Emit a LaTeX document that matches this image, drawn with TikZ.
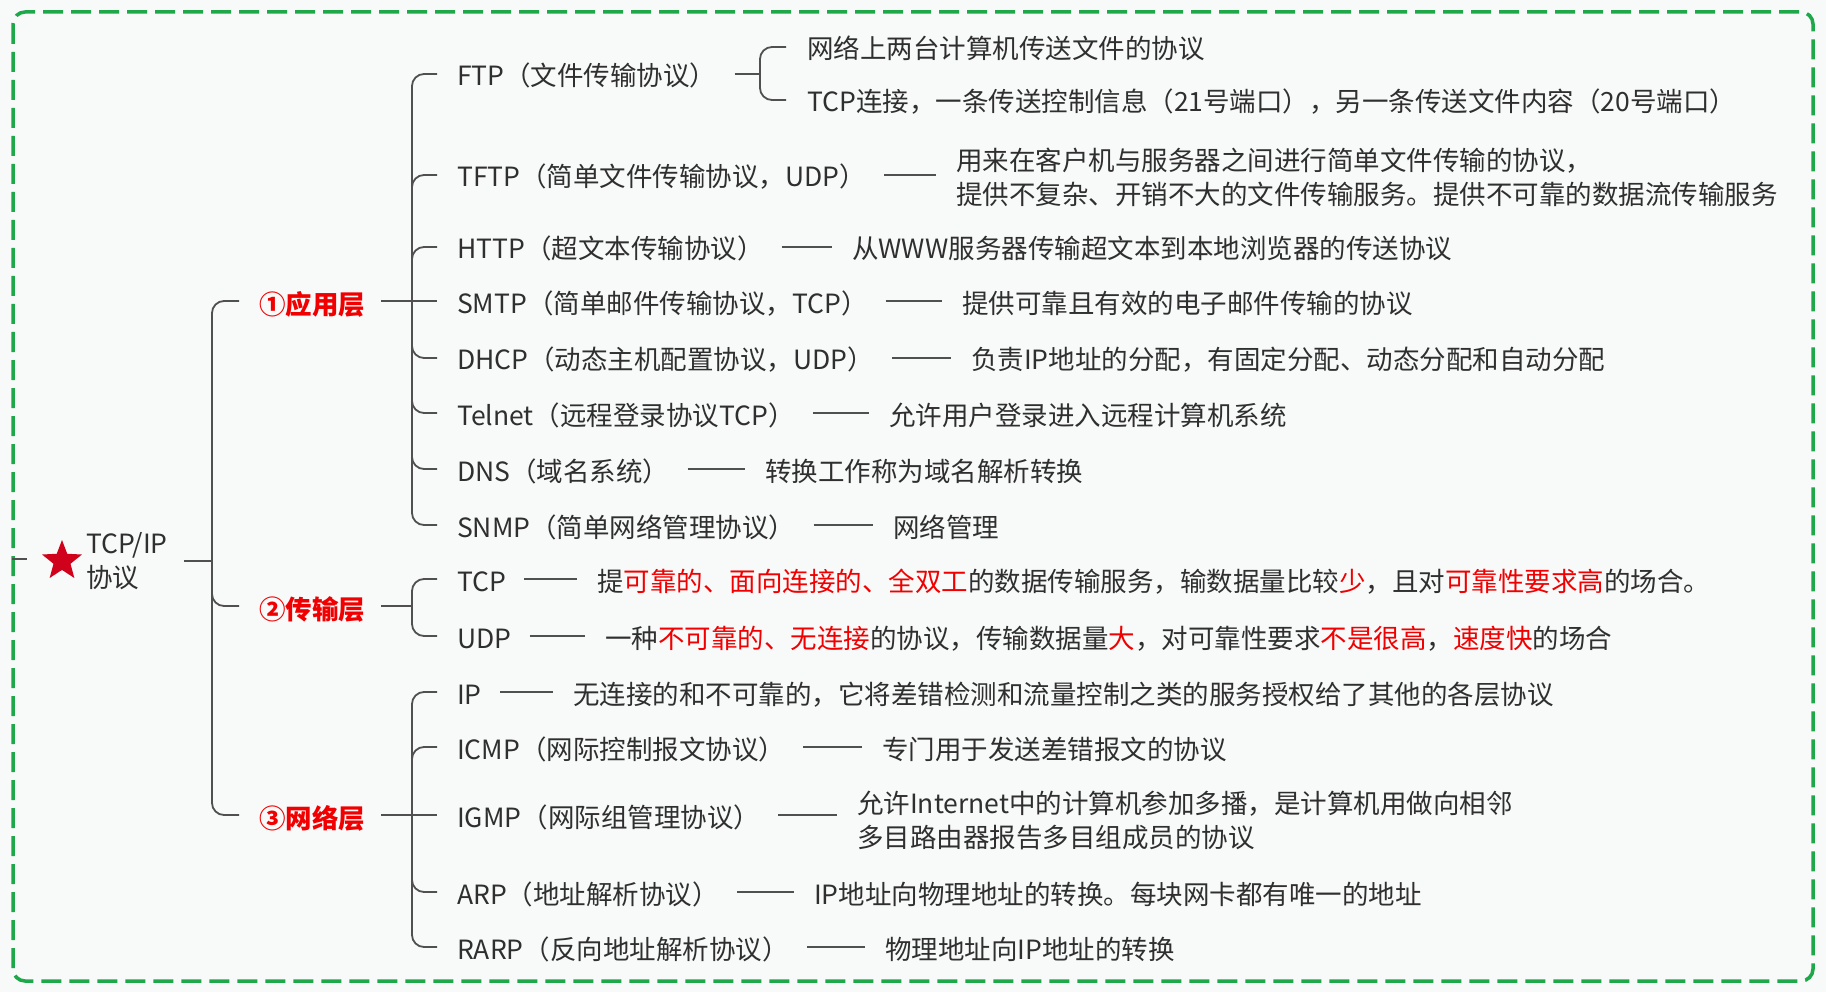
\documentclass[tikz,border=0pt]{standalone}
\usepackage{fontspec}
\setmainfont{Noto Sans CJK SC}
\usetikzlibrary{shapes.geometric}
\definecolor{bgc}{HTML}{F8F9F9}
\definecolor{txt}{HTML}{2F2F2F}
\definecolor{lnc}{HTML}{505050}
\definecolor{hl}{HTML}{F00000}
\definecolor{grn}{HTML}{1FA84A}
\definecolor{starc}{HTML}{D0021B}
\newcommand{\hlt}[1]{\textcolor{hl}{#1}}
\newcommand{\myfs}{\fontsize{26.5}{34}\selectfont}
\tikzset{
  conn/.style={draw=lnc, line width=1.8pt, rounded corners=12pt},
  item/.style={anchor=west, inner sep=0pt, text=txt, font=\myfs, text height=24pt, text depth=0pt},
  desctwo/.style={anchor=west, inner sep=0pt, text=txt, font=\myfs, align=left},
  layer/.style={anchor=west, inner sep=0pt, text=hl, font=\myfs\bfseries, text height=27pt, text depth=0pt},
  frame/.style={draw=grn, line width=3.5pt, dash pattern=on 20pt off 8pt, rounded corners=12pt}
}
\begin{document}
\begin{tikzpicture}[x=1pt,y=-1pt]
\useasboundingbox (0,0) rectangle (1826,992);
\fill[bgc] (0,0) rectangle (1826,992);
\draw[frame] (13,12) rectangle (1813,981);

% trunk coordinates
\coordinate (t0) at (212,0);
\coordinate (t1) at (412,0);
\coordinate (tf) at (760,0);
\coordinate (lsA) at (12,559);
\coordinate (lsB) at (27,559);

% root
\node[star, star points=5, star point ratio=2.35, fill=starc, minimum size=42pt, inner sep=0pt] (star) at (62,561) {};
\node[anchor=west, inner sep=0pt, text=txt, font=\fontsize{26.5}{34}\selectfont, align=left] (root) at (86,561) {TCP/IP\\协议};

% layers
\node[layer] (app) at (259,301) {①应用层};
\node[layer] (trans) at (259,606) {②传输层};
\node[layer] (net) at (259,815) {③网络层};

% application children
\node[item] (ftp) at (457,74) {FTP（文件传输协议）};
\node[item] (tftp) at (457,175) {TFTP（简单文件传输协议，UDP）};
\node[item] (http) at (457,247) {HTTP（超文本传输协议）};
\node[item] (smtp) at (457,301) {SMTP（简单邮件传输协议，TCP）};
\node[item] (dhcp) at (457,358) {DHCP（动态主机配置协议，UDP）};
\node[item] (telnet) at (457,413) {Telnet（远程登录协议TCP）};
\node[item] (dns) at (457,469) {DNS（域名系统）};
\node[item] (snmp) at (457,525) {SNMP（简单网络管理协议）};
% transport children
\node[item] (tcp) at (457,579) {TCP};
\node[item] (udp) at (457,636) {UDP};
% network children
\node[item] (ip) at (457,692) {IP};
\node[item] (icmp) at (457,747) {ICMP（网际控制报文协议）};
\node[item] (igmp) at (457,815) {IGMP（网际组管理协议）};
\node[item] (arp) at (457,892) {ARP（地址解析协议）};
\node[item] (rarp) at (457,947) {RARP（反向地址解析协议）};

% descriptions
\node[item] (ftpa) at (807,47) {网络上两台计算机传送文件的协议};
\node[item] (ftpb) at (807,100) {TCP连接，一条传送控制信息（21号端口），另一条传送文件内容（20号端口）};
\node[desctwo] (tftpd) at (956,177) {用来在客户机与服务器之间进行简单文件传输的协议，\\提供不复杂、开销不大的文件传输服务。提供不可靠的数据流传输服务};
\node[item] (httpd) at (852,247) {从WWW服务器传输超文本到本地浏览器的传送协议};
\node[item] (smtpd) at (962,301) {提供可靠且有效的电子邮件传输的协议};
\node[item] (dhcpd) at (971,358) {负责IP地址的分配，有固定分配、动态分配和自动分配};
\node[item] (telnetd) at (889,413) {允许用户登录进入远程计算机系统};
\node[item] (dnsd) at (765,469) {转换工作称为域名解析转换};
\node[item] (snmpd) at (893,525) {网络管理};
\node[item] (tcpd) at (597,579) {提\hlt{可靠的、面向连接的、全双工}的数据传输服务，输数据量比较\hlt{少}，且对\hlt{可靠性要求高}的场合。};
\node[item] (udpd) at (605,636) {一种\hlt{不可靠的、无连接}的协议，传输数据量\hlt{大}，对可靠性要求\hlt{不是很高}，\hlt{速度快}的场合};
\node[item] (ipd) at (573,692) {无连接的和不可靠的，它将差错检测和流量控制之类的服务授权给了其他的各层协议};
\node[item] (icmpd) at (882,747) {专门用于发送差错报文的协议};
\node[desctwo] (igmpd) at (857,820) {允许Internet中的计算机参加多播，是计算机用做向相邻\\多目路由器报告多目组成员的协议};
\node[item] (arpd) at (814,892) {IP地址向物理地址的转换。每块网卡都有唯一的地址};
\node[item] (rarpd) at (885,947) {物理地址向IP地址的转换};

% left stub
\draw[conn] (lsA) -- (lsB);

% root -> layers
\draw[conn] ([xshift=16pt]root.east) -- (root.east -| t0);
\foreach \c in {app,trans,net}
  \draw[conn] (root.east -| t0) |- ([xshift=-20pt]\c.west);

% layer stubs
\draw[conn] ([xshift=16pt]app.east) -- (app.east -| t1);
\draw[conn] ([xshift=16pt]trans.east) -- (trans.east -| t1);
\draw[conn] ([xshift=16pt]net.east) -- (net.east -| t1);

% app -> children
\foreach \c in {ftp,tftp,http,dhcp,telnet,dns,snmp}
  \draw[conn] (app.east -| t1) |- ([xshift=-20pt]\c.west);
\draw[conn] (app.east -| t1) -- ([xshift=-20pt]smtp.west);
% trans -> children
\foreach \c in {tcp,udp}
  \draw[conn] (trans.east -| t1) |- ([xshift=-20pt]\c.west);
% net -> children
\foreach \c in {ip,icmp,arp,rarp}
  \draw[conn] (net.east -| t1) |- ([xshift=-20pt]\c.west);
\draw[conn] (net.east -| t1) -- ([xshift=-20pt]igmp.west);

% FTP bracket
\draw[conn] ([xshift=18pt]ftp.east) -- (ftp.east -| tf);
\draw[conn] (ftp.east -| tf) |- ([xshift=-21pt]ftpa.west);
\draw[conn] (ftp.east -| tf) |- ([xshift=-21pt]ftpb.west);

% dashes to descriptions
\foreach \a/\b in {tftp/tftpd,http/httpd,smtp/smtpd,dhcp/dhcpd,telnet/telnetd,dns/dnsd,snmp/snmpd,tcp/tcpd,udp/udpd,ip/ipd,icmp/icmpd,igmp/igmpd,arp/arpd,rarp/rarpd}
  \draw[conn, shorten >=20pt] ([xshift=18pt]\a.east) -- (\a.east -| \b.west);
\end{tikzpicture}
\end{document}
